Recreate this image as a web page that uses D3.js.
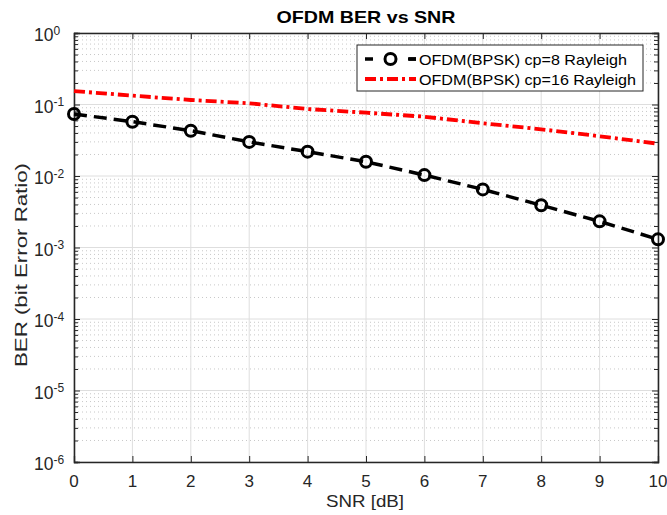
<!DOCTYPE html>
<html>
<head>
<meta charset="utf-8">
<script src="https://cdn.jsdelivr.net/npm/d3@7"></script>
<style>
  body { margin: 0; background: #fff; }
  text { font-family: "Liberation Sans", Arial, sans-serif; fill: #262626; }
</style>
</head>
<body>
<div id="chart"></div>
<script>
"use strict";

// data
const snr = [0, 1, 2, 3, 4, 5, 6, 7, 8, 9, 10];
const berCp8 = [0.0736, 0.0575, 0.043, 0.030, 0.0219, 0.0158, 0.0103, 0.0065, 0.0039, 0.00232, 0.0013];
const berCp16 = [0.154, 0.133, 0.1156, 0.104, 0.0865, 0.0768, 0.0675, 0.0546, 0.045, 0.036, 0.0283];
const xTicks = [0, 1, 2, 3, 4, 5, 6, 7, 8, 9, 10];
const yExps = [0, -1, -2, -3, -4, -5, -6];
const legendLabels = ["OFDM(BPSK) cp=8 Rayleigh", "OFDM(BPSK) cp=16 Rayleigh"];

const W = 667, H = 515;
const margin = {top: 33, right: 9, bottom: 53, left: 74};
const width = W - margin.left - margin.right;
const height = H - margin.top - margin.bottom;

const svg = d3.select("#chart").append("svg")
  .attr("width", W)
  .attr("height", H);

const g = svg.append("g")
  .attr("transform", `translate(${margin.left},${margin.top})`);

const x = d3.scaleLinear().domain([0, 10]).range([0, width]);
const y = d3.scaleLog().domain([1e-6, 1]).range([height, 0]);

// minor grid (dotted)
const minorVals = [];
for (let e = -6; e < 0; e++) {
  for (let m = 2; m <= 9; m++) minorVals.push(m * Math.pow(10, e));
}
g.append("g").selectAll("line").data(minorVals).join("line")
  .attr("x1", 0).attr("x2", width)
  .attr("y1", d => y(d)).attr("y2", d => y(d))
  .attr("stroke", "#c8c8c8").attr("stroke-width", 1)
  .attr("stroke-dasharray", "1,3");

// major grid
g.append("g").selectAll("line").data(xTicks).join("line")
  .attr("x1", d => x(d)).attr("x2", d => x(d))
  .attr("y1", 0).attr("y2", height)
  .attr("stroke", "#dedede").attr("stroke-width", 1);
g.append("g").selectAll("line").data(yExps).join("line")
  .attr("x1", 0).attr("x2", width)
  .attr("y1", d => y(Math.pow(10, d))).attr("y2", d => y(Math.pow(10, d)))
  .attr("stroke", "#dedede").attr("stroke-width", 1);

// axes box with inward ticks
const tickLen = 6, minorLen = 4;
const axisCol = "#262626";

const xb = d3.axisBottom(x).tickValues(xTicks).tickSize(-tickLen).tickFormat("");
const xt = d3.axisTop(x).tickValues(xTicks).tickSize(-tickLen).tickFormat("");
g.append("g").attr("transform", `translate(0,${height})`).call(xb);
g.append("g").call(xt);

const yl = d3.axisLeft(y).tickValues(yExps.map(e => Math.pow(10, e))).tickSize(-tickLen).tickFormat("");
const yr = d3.axisRight(y).tickValues(yExps.map(e => Math.pow(10, e))).tickSize(-tickLen).tickFormat("");
const ylm = d3.axisLeft(y).tickValues(minorVals).tickSize(-minorLen).tickFormat("");
const yrm = d3.axisRight(y).tickValues(minorVals).tickSize(-minorLen).tickFormat("");
g.append("g").call(yl);
g.append("g").call(ylm);
g.append("g").attr("transform", `translate(${width},0)`).call(yr);
g.append("g").attr("transform", `translate(${width},0)`).call(yrm);

g.selectAll(".domain").attr("stroke", axisCol).attr("stroke-width", 1.3);
g.selectAll(".tick line").attr("stroke", axisCol).attr("stroke-width", 1);

// x tick labels
g.append("g").selectAll("text").data(xTicks).join("text")
  .attr("x", d => x(d))
  .attr("y", height + 25)
  .attr("text-anchor", "middle")
  .style("font-size", "17px")
  .text(d => d);

// y tick labels with superscripts
const yLab = g.append("g").selectAll("text").data(yExps).join("text")
  .attr("y", d => y(Math.pow(10, d)) + 8)
  .style("font-size", "17.5px");
yLab.append("tspan").text("10");
yLab.append("tspan").attr("dy", -6.5).style("font-size", "12px")
  .text(d => d === 0 ? "0" : "-" + Math.abs(d));
// base "10" ends at x=-20.5, exponent follows it
yLab.attr("x", function() {
  return -20.5 - this.firstChild.getComputedTextLength();
});

// lines
const line = d3.line().x((d, i) => x(snr[i])).y(d => y(d));

g.append("path").datum(berCp16)
  .attr("d", line)
  .attr("fill", "none").attr("stroke", "#ff0000").attr("stroke-width", 3.8)
  .attr("stroke-dasharray", "11,4,3,4");

g.append("path").datum(berCp8)
  .attr("d", line)
  .attr("fill", "none").attr("stroke", "#000").attr("stroke-width", 3.5)
  .attr("stroke-dasharray", "13,7");

g.append("g").selectAll("circle").data(berCp8).join("circle")
  .attr("cx", (d, i) => x(snr[i])).attr("cy", d => y(d))
  .attr("r", 5.5).attr("fill", "none")
  .attr("stroke", "#000").attr("stroke-width", 3);

// title and axis labels
svg.append("text")
  .attr("x", 366).attr("y", 23)
  .attr("text-anchor", "middle")
  .attr("textLength", 179).attr("lengthAdjust", "spacingAndGlyphs")
  .style("font-size", "17px").style("font-weight", "bold")
  .style("fill", "#000")
  .text("OFDM BER vs SNR");

svg.append("text")
  .attr("x", 365).attr("y", 507)
  .attr("text-anchor", "middle")
  .attr("textLength", 78).attr("lengthAdjust", "spacingAndGlyphs")
  .style("font-size", "17px")
  .text("SNR [dB]");

svg.append("text")
  .attr("transform", "translate(27,265) rotate(-90)")
  .attr("text-anchor", "middle")
  .attr("textLength", 204).attr("lengthAdjust", "spacingAndGlyphs")
  .style("font-size", "17px")
  .text("BER (bit Error Ratio)");

// legend
const lg = svg.append("g").attr("transform", "translate(357,45)");
lg.append("rect")
  .attr("width", 286).attr("height", 46)
  .attr("fill", "#fff").attr("stroke", "#262626").attr("stroke-width", 1);

const rows = lg.selectAll("g.row").data(legendLabels).join("g")
  .attr("class", "row")
  .attr("transform", (d, i) => `translate(0,${14 + i * 20})`);

rows.append("line")
  .attr("x1", 8).attr("x2", 59).attr("y1", 0).attr("y2", 0)
  .attr("stroke", (d, i) => i === 0 ? "#000" : "#ff0000")
  .attr("stroke-width", (d, i) => i === 0 ? 3.5 : 3.8)
  .attr("stroke-dasharray", (d, i) => i === 0 ? "8,36" : "11,4,3,4");

rows.filter((d, i) => i === 0).append("line")
  .attr("x1", 51).attr("x2", 59).attr("y1", 0).attr("y2", 0)
  .attr("stroke", "#000").attr("stroke-width", 3.5);

rows.filter((d, i) => i === 0).append("circle")
  .attr("cx", 33.5).attr("cy", 0).attr("r", 5.5)
  .attr("fill", "none").attr("stroke", "#000").attr("stroke-width", 3);

rows.append("text")
  .attr("x", 62).attr("y", 5.5)
  .attr("textLength", (d, i) => i === 0 ? 208 : 217)
  .attr("lengthAdjust", "spacingAndGlyphs")
  .style("font-size", "15px")
  .style("fill", "#000")
  .text(d => d);
</script>
</body>
</html>
